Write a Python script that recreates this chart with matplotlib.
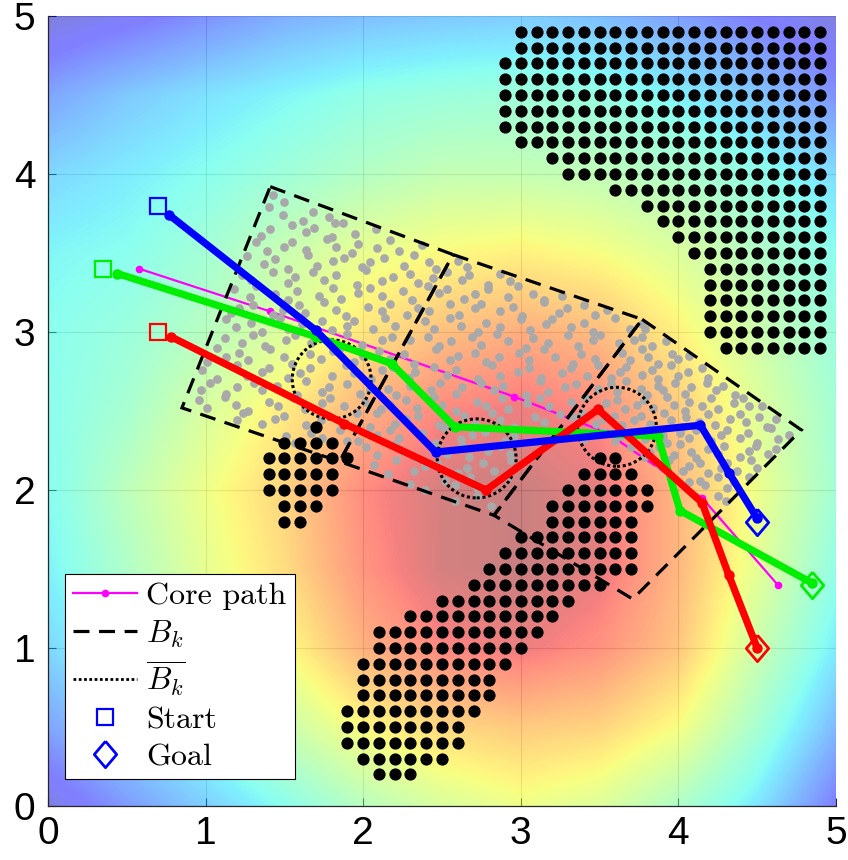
import numpy as np
import matplotlib
matplotlib.use("Agg")
import matplotlib.pyplot as plt
from matplotlib.lines import Line2D
from matplotlib.patches import Polygon, Circle

# ---------------- data ----------------
heat_x = [0.0, 0.5, 1.0, 1.5, 2.0, 2.5, 3.0, 3.5, 4.0, 4.5, 5.0]
heat_y = [0.0, 0.5, 1.0, 1.5, 2.0, 2.5, 3.0, 3.5, 4.0, 4.5, 5.0]
# rows: y = 0.0 ... 5.0 ; cols: x = 0.0 ... 5.0
heat_values = [
    [0.06, 0.18, 0.28, 0.38, 0.49, 0.57, 0.62, 0.58, 0.47, 0.33, 0.12],
    [0.20, 0.30, 0.40, 0.53, 0.65, 0.72, 0.75, 0.73, 0.64, 0.45, 0.24],
    [0.30, 0.40, 0.52, 0.64, 0.80, 0.89, 0.92, 0.87, 0.76, 0.54, 0.34],
    [0.35, 0.47, 0.60, 0.71, 0.86, 0.96, 0.98, 0.93, 0.79, 0.60, 0.40],
    [0.37, 0.50, 0.62, 0.73, 0.88, 0.96, 0.98, 0.93, 0.79, 0.62, 0.44],
    [0.38, 0.45, 0.57, 0.68, 0.80, 0.89, 0.92, 0.88, 0.75, 0.59, 0.44],
    [0.38, 0.42, 0.49, 0.58, 0.69, 0.77, 0.81, 0.78, 0.67, 0.54, 0.42],
    [0.36, 0.38, 0.44, 0.53, 0.61, 0.65, 0.67, 0.64, 0.58, 0.48, 0.38],
    [0.30, 0.34, 0.38, 0.43, 0.48, 0.52, 0.52, 0.51, 0.47, 0.40, 0.31],
    [0.20, 0.27, 0.32, 0.36, 0.40, 0.42, 0.43, 0.41, 0.35, 0.27, 0.16],
    [0.05, 0.10, 0.16, 0.22, 0.25, 0.27, 0.28, 0.25, 0.19, 0.12, 0.06],
]

# obstacle rows: (y, first x, last x) on a 0.1 grid
obstacle_rows = [
    (4.9, 3.0, 4.9), (4.8, 3.0, 4.9), (4.7, 2.9, 4.9), (4.6, 2.9, 4.9),
    (4.5, 2.9, 4.9), (4.4, 2.9, 4.9), (4.3, 2.9, 4.9), (4.2, 3.0, 4.9),
    (4.1, 3.2, 4.9), (4.0, 3.3, 4.9), (3.9, 3.6, 4.9), (3.8, 3.8, 4.9),
    (3.7, 3.9, 4.9), (3.6, 4.0, 4.9), (3.5, 4.1, 4.9), (3.4, 4.2, 4.9),
    (3.3, 4.2, 4.9), (3.2, 4.2, 4.9), (3.1, 4.2, 4.9), (3.0, 4.2, 4.9),
    (2.9, 4.3, 4.9),
    (2.4, 1.7, 1.7), (2.3, 1.5, 1.8), (2.2, 1.4, 1.9), (2.1, 1.4, 1.8),
    (2.0, 1.4, 1.8), (1.9, 1.5, 1.7), (1.8, 1.5, 1.6),
    (2.2, 3.5, 3.6), (2.1, 3.4, 3.7), (2.0, 3.3, 3.8), (1.9, 3.2, 3.8),
    (1.8, 3.2, 3.7), (1.7, 3.0, 3.7), (1.6, 2.9, 3.7), (1.5, 2.8, 3.7),
    (1.4, 2.7, 3.5), (1.3, 2.5, 3.3), (1.2, 2.3, 3.2), (1.1, 2.1, 3.1),
    (1.0, 2.1, 3.0), (0.9, 2.0, 2.9), (0.8, 2.0, 2.8), (0.7, 2.0, 2.8),
    (0.6, 1.9, 2.7), (0.5, 1.9, 2.6), (0.4, 1.9, 2.6), (0.3, 2.0, 2.5),
    (0.2, 2.1, 2.3),
]

samples_b1 = [
    (1.43,3.87),(1.50,3.82),
    (1.40,3.79),(1.49,3.74),(1.62,3.70),(1.68,3.76),(1.78,3.73),(1.82,3.69),
    (1.35,3.61),(1.41,3.65),(1.55,3.68),(1.64,3.63),(1.69,3.66),(1.80,3.60),(1.87,3.69),(1.95,3.62),(2.08,3.65),
    (1.32,3.57),(1.39,3.51),(1.50,3.54),(1.55,3.57),(1.64,3.52),(1.77,3.59),(1.83,3.54),(1.93,3.50),(1.97,3.56),(2.09,3.53),(2.17,3.58),(2.23,3.51),(2.37,3.55),
    (1.26,3.48),(1.37,3.43),(1.44,3.46),(1.52,3.40),(1.65,3.49),(1.71,3.42),(1.81,3.45),(1.88,3.47),(1.99,3.41),(2.04,3.44),(2.13,3.47),(2.26,3.42),(2.32,3.49),(2.42,3.44),(2.46,3.40),
    (1.23,3.36),(1.29,3.33),(1.43,3.38),(1.52,3.31),(1.57,3.35),(1.68,3.38),(1.75,3.33),(1.83,3.36),(1.96,3.30),(2.02,3.39),(2.12,3.32),(2.19,3.35),(2.30,3.37),(2.35,3.31),(2.44,3.34),
    (1.18,3.27),(1.28,3.22),(1.32,3.29),(1.44,3.24),(1.52,3.20),(1.58,3.26),(1.72,3.23),(1.81,3.28),(1.86,3.21),(1.97,3.25),(2.04,3.28),(2.12,3.23),(2.25,3.26),(2.31,3.20),(2.41,3.29),
    (1.16,3.12),(1.21,3.15),(1.30,3.17),(1.43,3.11),(1.49,3.14),(1.59,3.17),(1.63,3.12),(1.75,3.19),(1.83,3.14),(1.89,3.10),(2.03,3.16),(2.12,3.13),(2.17,3.18),(2.28,3.11),(2.35,3.15),
    (1.13,3.08),(1.19,3.03),(1.29,3.06),(1.36,3.00),(1.47,3.09),(1.52,3.02),(1.61,3.05),(1.74,3.07),(1.80,3.01),(1.90,3.04),(1.94,3.07),(2.06,3.02),(2.14,3.09),(2.20,3.04),
    (1.07,2.90),(1.12,2.96),(1.23,2.93),(1.30,2.98),(1.38,2.91),(1.51,2.95),(1.57,2.98),(1.67,2.93),(1.74,2.96),(1.85,2.90),(1.90,2.99),(1.99,2.92),(2.12,2.95),(2.18,2.97),
    (1.01,2.81),(1.13,2.84),(1.21,2.87),(1.27,2.82),(1.41,2.89),(1.50,2.84),(1.55,2.80),(1.66,2.86),(1.73,2.83),(1.81,2.88),(1.94,2.81),(2.00,2.85),(2.10,2.88),(2.17,2.83),
    (0.98,2.76),(1.07,2.70),(1.20,2.79),(1.26,2.72),(1.36,2.75),(1.40,2.77),(1.52,2.71),(1.60,2.74),(1.66,2.77),(1.80,2.72),(1.89,2.79),(1.94,2.74),(2.05,2.70),(2.12,2.76),
    (0.97,2.63),(1.03,2.68),(1.13,2.61),(1.20,2.65),(1.31,2.68),(1.36,2.63),(1.45,2.66),(1.58,2.60),(1.64,2.69),(1.74,2.62),(1.78,2.65),(1.90,2.67),(1.98,2.61),(2.04,2.64),
    (0.96,2.57),(1.01,2.52),(1.12,2.59),(1.19,2.54),(1.27,2.50),(1.40,2.56),(1.46,2.53),(1.56,2.58),(1.63,2.51),(1.74,2.55),(1.79,2.58),(1.88,2.53),(2.01,2.56),
    (1.20,2.44),(1.24,2.49),(1.36,2.42),(1.44,2.45),(1.50,2.47),(1.64,2.41),(1.73,2.44),(1.78,2.47),(1.89,2.42),(1.96,2.49),
    (1.51,2.34),(1.57,2.30),(1.67,2.36),(1.74,2.33),(1.85,2.38),(1.90,2.31),
]
samples_b2 = [
    (2.60,3.45),(2.66,3.41),
    (2.53,3.38),(2.63,3.33),(2.67,3.36),(2.79,3.30),(2.87,3.37),(2.93,3.32),
    (2.48,3.25),(2.53,3.27),(2.64,3.21),(2.71,3.24),(2.79,3.27),(2.92,3.22),(2.98,3.29),(3.08,3.24),(3.15,3.20),(3.26,3.23),
    (2.42,3.13),(2.55,3.18),(2.61,3.11),(2.71,3.15),(2.75,3.18),(2.87,3.13),(2.95,3.16),(3.01,3.10),(3.15,3.19),(3.24,3.12),(3.29,3.15),(3.40,3.17),(3.47,3.11),(3.55,3.14),
    (2.39,3.07),(2.45,3.02),(2.55,3.09),(2.62,3.04),(2.73,3.00),(2.78,3.06),(2.87,3.03),(3.00,3.08),(3.06,3.01),(3.16,3.05),(3.20,3.08),(3.32,3.03),(3.40,3.06),(3.46,3.00),(3.60,3.09),(3.69,3.02),
    (2.30,2.95),(2.41,2.97),(2.48,2.91),(2.56,2.94),(2.69,2.97),(2.75,2.92),(2.85,2.99),(2.92,2.94),(3.03,2.90),(3.08,2.96),(3.17,2.93),(3.30,2.98),(3.36,2.91),(3.46,2.95),(3.50,2.98),(3.62,2.93),
    (2.26,2.86),(2.32,2.80),(2.46,2.89),(2.55,2.82),(2.60,2.85),(2.71,2.87),(2.78,2.81),(2.86,2.84),(2.99,2.87),(3.05,2.82),(3.15,2.89),(3.22,2.84),(3.33,2.80),(3.38,2.86),(3.47,2.83),
    (2.19,2.78),(2.29,2.71),(2.33,2.75),(2.45,2.78),(2.53,2.73),(2.59,2.76),(2.73,2.70),(2.82,2.79),(2.87,2.72),(2.98,2.75),(3.05,2.77),(3.13,2.71),(3.26,2.74),(3.32,2.77),(3.42,2.72),(3.49,2.79),
    (2.16,2.64),(2.21,2.60),(2.30,2.66),(2.43,2.63),(2.49,2.68),(2.59,2.61),(2.63,2.65),(2.75,2.68),(2.83,2.63),(2.89,2.66),(3.03,2.60),(3.12,2.69),(3.17,2.62),(3.28,2.65),(3.35,2.67),
    (2.11,2.51),(2.17,2.54),(2.27,2.57),(2.34,2.52),(2.45,2.59),(2.50,2.54),(2.59,2.50),(2.72,2.56),(2.78,2.53),(2.88,2.58),(2.92,2.51),(3.04,2.55),(3.12,2.58),(3.18,2.53),(3.32,2.56),
    (2.04,2.40),(2.09,2.49),(2.20,2.42),(2.27,2.45),(2.35,2.47),(2.48,2.41),(2.54,2.44),(2.64,2.47),(2.71,2.42),(2.82,2.49),(2.87,2.44),(2.96,2.40),(3.09,2.46),(3.15,2.43),(3.25,2.48),
    (1.97,2.31),(2.09,2.35),(2.17,2.38),(2.23,2.33),(2.37,2.36),(2.46,2.30),(2.51,2.39),(2.62,2.32),(2.69,2.35),(2.77,2.37),(2.90,2.31),(2.96,2.34),
    (2.02,2.27),(2.09,2.22),(2.20,2.29),(2.25,2.24),(2.34,2.20),(2.47,2.26),(2.53,2.23),(2.63,2.28),(2.67,2.21),(2.79,2.25),(2.87,2.28),(2.93,2.23),
    (2.07,2.16),(2.16,2.10),(2.21,2.19),(2.32,2.12),(2.39,2.15),(2.47,2.17),(2.60,2.11),(2.66,2.14),(2.76,2.17),(2.83,2.12),(2.94,2.19),
    (2.30,2.04),(2.39,2.00),(2.52,2.06),(2.58,2.03),(2.68,2.08),(2.72,2.01),(2.84,2.05),(2.92,2.08),
    (2.58,1.93),(2.72,1.96),(2.81,1.90),
]
samples_b3 = [
    (3.77,3.05),(3.79,3.02),
    (3.72,2.95),(3.77,2.97),(3.83,2.91),(3.92,2.94),
    (3.64,2.87),(3.69,2.82),(3.77,2.89),(3.81,2.84),(3.87,2.80),(3.96,2.86),(4.00,2.83),(4.07,2.85),
    (3.57,2.71),(3.63,2.75),(3.67,2.78),(3.77,2.73),(3.83,2.76),(3.87,2.70),(3.95,2.79),(4.00,2.72),(4.06,2.75),(4.15,2.77),(4.19,2.71),
    (3.49,2.64),(3.57,2.67),(3.61,2.62),(3.67,2.69),(3.76,2.64),(3.80,2.60),(3.87,2.66),(3.90,2.63),(3.98,2.68),(4.04,2.61),(4.08,2.65),(4.18,2.68),(4.24,2.63),(4.28,2.66),(4.36,2.60),
    (3.41,2.59),(3.50,2.52),(3.54,2.55),(3.61,2.57),(3.66,2.51),(3.74,2.54),(3.78,2.57),(3.84,2.52),(3.93,2.59),(3.97,2.54),(4.04,2.50),(4.07,2.56),(4.15,2.53),(4.21,2.58),(4.25,2.51),(4.35,2.55),(4.41,2.58),(4.45,2.53),(4.53,2.53),
    (3.33,2.46),(3.39,2.49),(3.48,2.42),(3.52,2.45),(3.59,2.47),(3.64,2.41),(3.72,2.44),(3.76,2.47),(3.82,2.42),(3.91,2.49),(3.95,2.44),(4.02,2.40),(4.05,2.46),(4.13,2.43),(4.19,2.48),(4.23,2.41),(4.33,2.45),(4.39,2.48),(4.43,2.43),(4.51,2.46),(4.56,2.40),(4.62,2.45),
    (3.40,2.32),(3.47,2.35),(3.52,2.37),(3.60,2.31),(3.64,2.34),(3.70,2.37),(3.79,2.32),(3.83,2.39),(3.90,2.34),(3.93,2.30),(4.01,2.36),(4.07,2.33),(4.11,2.38),(4.21,2.31),(4.27,2.35),(4.31,2.38),(4.39,2.33),(4.44,2.36),(4.50,2.30),(4.59,2.39),(4.63,2.32),(4.70,2.35),
    (3.70,2.27),(3.78,2.21),(3.82,2.24),(3.88,2.27),(3.97,2.22),(4.01,2.29),(4.08,2.24),(4.11,2.20),(4.19,2.26),(4.25,2.23),(4.29,2.28),(4.39,2.21),(4.45,2.25),(4.49,2.28),(4.57,2.23),(4.62,2.26),
    (3.88,2.16),(3.94,2.19),(4.03,2.12),(4.07,2.15),(4.14,2.17),(4.19,2.11),(4.27,2.14),(4.31,2.17),(4.37,2.12),(4.46,2.19),(4.50,2.14),
    (4.07,2.05),(4.14,2.06),(4.17,2.03),(4.25,2.08),(4.31,2.01),(4.35,2.05),(4.45,2.08),
    (4.25,1.96),(4.30,1.93),
]

box_corners = [
    [(1.41, 3.92), (2.57, 3.49), (1.85, 2.18), (0.85, 2.52)],
    [(2.57, 3.49), (3.77, 3.08), (2.83, 1.84), (1.85, 2.18)],
    [(3.77, 3.08), (4.78, 2.38), (3.71, 1.31), (2.83, 1.84)],
]
circle_x = [1.80, 2.72, 3.61]
circle_y = [2.70, 2.20, 2.40]
circle_r = [0.25, 0.25, 0.25]

core_x = [0.58, 1.41, 2.96, 3.55, 4.15, 4.63]
core_y = [3.40, 3.13, 2.59, 2.36, 1.95, 1.40]

green_x = [0.44, 1.70, 2.18, 2.58, 3.87, 4.01, 4.85]
green_y = [3.37, 2.97, 2.80, 2.40, 2.34, 1.87, 1.41]
red_x = [0.78, 1.88, 2.78, 3.49, 4.15, 4.32, 4.50]
red_y = [2.97, 2.42, 2.00, 2.51, 1.92, 1.46, 1.00]
blue_x = [0.77, 1.70, 2.46, 4.14, 4.32, 4.50]
blue_y = [3.74, 3.01, 2.24, 2.41, 2.11, 1.82]

start_x = [0.70, 0.35, 0.70]
start_y = [3.00, 3.40, 3.80]
goal_x = [4.50, 4.85, 4.50]
goal_y = [1.00, 1.40, 1.80]
path_colors = ["#ff0000", "#00ee00", "#0000ff"]

tick_values = [0, 1, 2, 3, 4, 5]
tick_labels = ["0", "1", "2", "3", "4", "5"]
legend_labels = ["Core path", r"$B_k$", r"$\overline{B_k}$", "Start", "Goal"]

# ---------------- style ----------------
plt.rcParams["font.family"] = ["Liberation Sans Narrow", "Liberation Sans", "DejaVu Sans"]
plt.rcParams["mathtext.fontset"] = "cm"

fig = plt.figure(figsize=(8.48, 8.6), dpi=100)
ax = fig.add_axes([48 / 848, 54 / 860, 788 / 848, 790 / 860])

dx = (heat_x[1] - heat_x[0]) / 2
dy = (heat_y[1] - heat_y[0]) / 2
ax.imshow(np.array(heat_values), origin="lower", cmap="jet", vmin=0, vmax=1,
          alpha=0.5, interpolation="bilinear", aspect="auto",
          extent=(heat_x[0] - dx, heat_x[-1] + dx, heat_y[0] - dy, heat_y[-1] + dy),
          zorder=1)

ax.set_axisbelow(True)
ax.grid(True, color="0.15", alpha=0.18, lw=0.8, zorder=0.5)

# core path (below samples)
ax.plot(core_x, core_y, "-", color="#ff00ff", lw=1.6, marker="o", ms=4.5, zorder=2)

# samples
for pts in (samples_b1, samples_b2, samples_b3):
    px = [p[0] for p in pts]
    py = [p[1] for p in pts]
    ax.plot(px, py, "o", color="#a9a9a9", ms=6.3, mew=0, zorder=3)

# obstacles
ox, oy = [], []
for y, x0, x1 in obstacle_rows:
    n = int(round((x1 - x0) / 0.1)) + 1
    for k in range(n):
        ox.append(x0 + 0.1 * k)
        oy.append(y)
ax.plot(ox, oy, "o", color="k", ms=8.8, mew=0, zorder=3.5)

# B_k boxes
dash = (0, (5, 3))
for corners in box_corners:
    ax.add_patch(Polygon(corners, closed=True, fill=False, ec="k", lw=2.3,
                         ls=dash, zorder=4))
dots = (0, (1, 0.9))
for cx, cy, r in zip(circle_x, circle_y, circle_r):
    ax.add_patch(Circle((cx, cy), r, fill=False, ec="k", lw=2.2, ls=dots, zorder=4.5))

# paths
for xs, ys, c, z in ((green_x, green_y, path_colors[1], 5.0),
                     (red_x, red_y, path_colors[0], 5.1),
                     (blue_x, blue_y, path_colors[2], 5.2)):
    ax.plot(xs, ys, "-", color=c, lw=5.2, marker="o", ms=7.5, mew=0,
            solid_capstyle="butt", zorder=z)

diamond = [(0, 1), (0.85, 0), (0, -1), (-0.85, 0), (0, 1)]
for sx, sy, gx, gy, c in zip(start_x, start_y, goal_x, goal_y,
                             [path_colors[0], path_colors[1], path_colors[2]]):
    ax.plot([sx], [sy], marker="s", ms=12, mfc="none", mec=c, mew=1.6, ls="none", zorder=6)
    ax.plot([gx], [gy], marker=diamond, ms=19, mfc="none", mec=c, mew=2.0, ls="none", zorder=6)

ax.set_xlim(0, 5)
ax.set_ylim(0, 5)
ax.set_xticks(tick_values)
ax.set_yticks(tick_values)
ax.set_xticklabels(tick_labels)
ax.set_yticklabels(tick_labels)
ax.tick_params(direction="in", length=6, width=0.8, labelsize=28, color="0.15",
               top=False, right=False)
ax.tick_params(axis="x", pad=7)
ax.tick_params(axis="y", pad=9)
for s in ("top", "right"):
    ax.spines[s].set_visible(False)
for s in ("left", "bottom"):
    ax.spines[s].set_color("0.15")
    ax.spines[s].set_linewidth(0.9)
    ax.spines[s].set_zorder(7)

handles = [
    Line2D([], [], color="#ff00ff", lw=1.6, marker="o", ms=4.5),
    Line2D([], [], color="k", lw=2.3, ls=dash),
    Line2D([], [], color="k", lw=2.0, ls=dots),
    Line2D([], [], ls="none", marker="s", ms=12, mfc="none", mec="#0000ff", mew=1.6),
    Line2D([], [], ls="none", marker=diamond, ms=19, mfc="none", mec="#0000ff", mew=2.0),
]
leg = ax.legend(handles, legend_labels, loc="lower left",
                bbox_to_anchor=(17 / 788, 27 / 790), borderaxespad=0,
                prop={"family": "cmr10", "size": 23}, handlelength=2.0,
                handletextpad=0.3, borderpad=0.25, labelspacing=0.26,
                fancybox=False, framealpha=1, edgecolor="k", numpoints=1)
leg.get_frame().set_linewidth(0.8)
leg.set_zorder(10)

fig.savefig("out.png", dpi=100)
